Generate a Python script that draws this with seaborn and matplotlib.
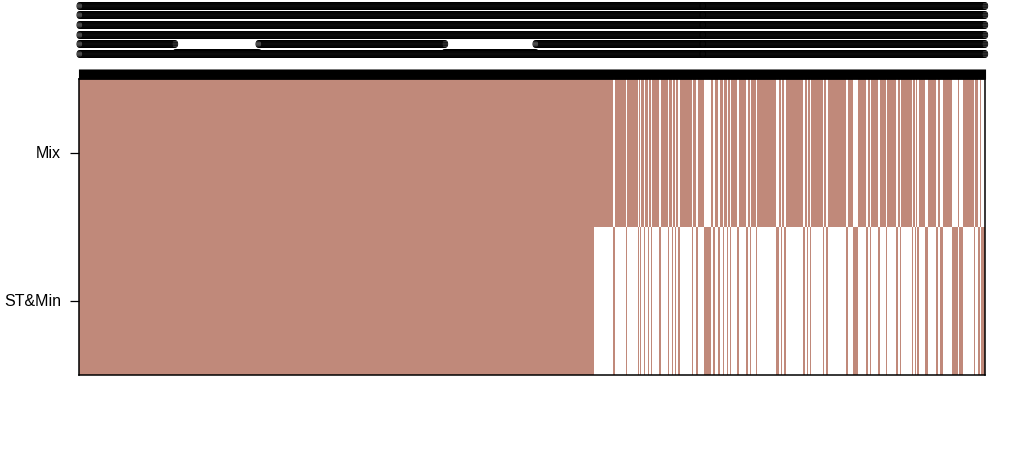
import numpy as np
import pandas as pd
import seaborn as sns
import matplotlib.pyplot as plt
from matplotlib.colors import ListedColormap

# Presence of each feature in the two sample groups, read left to right as runs
# B = in both groups, M = only in Mix, S = only in ST&Min
run_states = (['B', 'M']
              + ['S', 'M', 'S', 'M', 'S', 'M', 'S', 'M', 'S', 'M', 'S', 'M', 'S', 'M', 'S', 'M', 'S',
                 'M', 'S', 'M', 'S', 'M', 'S', 'M', 'S', 'M', 'S', 'M', 'S', 'M', 'S', 'M', 'S', 'M',
                 'S', 'M', 'S', 'M', 'S', 'M', 'S', 'M', 'S', 'M', 'S', 'M', 'S', 'M', 'S']
              + ['M', 'S', 'M', 'S', 'M', 'S', 'M', 'S', 'M', 'S', 'M', 'S', 'M', 'S', 'M', 'S', 'M',
                 'S', 'M', 'S', 'M', 'S', 'M', 'S', 'M', 'S', 'M', 'S', 'M', 'S', 'M', 'S', 'M', 'S',
                 'M', 'S', 'M', 'S', 'M', 'S', 'M', 'S', 'M', 'S', 'M', 'S', 'M', 'S', 'M', 'S', 'M', 'S'])
run_lengths = ([516, 19]
               + [2, 11, 1, 11, 1, 1, 1, 3, 1, 3, 1, 2, 1, 7, 2, 7, 1,
                  3, 1, 2, 1, 2, 2, 12, 1, 3, 2, 6, 7, 2, 2, 3, 2, 3,
                  1, 3, 1, 2, 1, 6, 2, 7, 2, 2, 1, 5, 1, 19, 3]
               + [2, 1, 2, 2, 17, 2, 2, 1, 2, 1, 12, 1, 2, 2, 18, 2, 5,
                  5, 8, 2, 2, 1, 7, 2, 6, 1, 9, 2, 2, 1, 11, 1, 2, 1,
                  1, 2, 6, 3, 8, 2, 2, 3, 9, 6, 1, 4, 11, 1, 3, 2, 1, 4])

groups = ['Mix', 'ST&Min']
brown = '#C0897A'

# expand runs into one column per feature
states = []
for s, n in zip(run_states, run_lengths):
    states += [s] * n
n_cols = len(states)

mix = [1 if s in ('B', 'M') else 0 for s in states]
stmin = [1 if s in ('B', 'S') else 0 for s in states]
df = pd.DataFrame([mix, stmin], index=groups)

# column labels (unreadable, overplotted in the original)
underscore_ranges = [(96, 179), (366, 456)]
col_labels = []
for i in range(n_cols):
    fifth = 'O'
    for a, b in underscore_ranges:
        if a <= i < b:
            fifth = '_'
    col_labels.append('\n'.join(['O', 'O', 'O', 'O', fifth, 'O']))

plt.rcParams['font.family'] = ['Liberation Sans', 'DejaVu Sans']

fig = plt.figure(figsize=(10.25, 4.73), dpi=100)
ax = fig.add_axes([79 / 1025, 1 - 375 / 473, 906 / 1025, 296 / 473])

sns.heatmap(df, cmap=ListedColormap(['white', brown]), vmin=0, vmax=1,
            cbar=False, ax=ax, xticklabels=False, yticklabels=True)

ax.set_yticklabels(groups, rotation=0, fontsize=11.5, color='black')
ax.tick_params(axis='y', length=6.5, width=0.9, pad=6.5, left=True)

ax.xaxis.tick_top()
ax.set_xticks(np.arange(n_cols) + 0.5)
ax.set_xticklabels(col_labels, fontsize=7, linespacing=0.94, rotation=0)
ax.tick_params(axis='x', top=True, bottom=False, length=7.5, width=0.8, pad=6.5)

for s in ax.spines.values():
    s.set_visible(True)
    s.set_linewidth(1.1)
    s.set_color('black')

ax.set_xlabel('')
ax.set_ylabel('')

fig.savefig('out.png', dpi=100)
